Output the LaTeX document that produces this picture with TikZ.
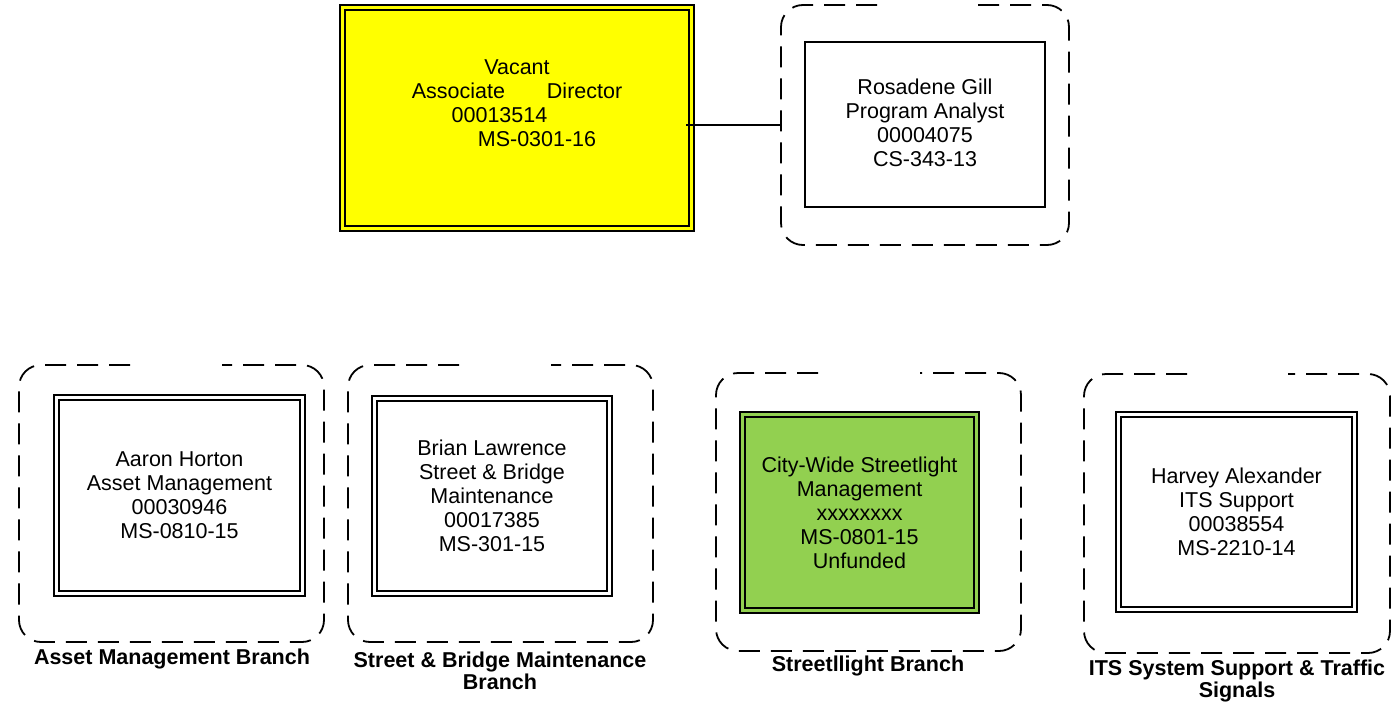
\documentclass[tikz,border=0pt]{standalone}
\usepackage{fontspec}
\setmainfont{Liberation Sans}
\usetikzlibrary{calc}
\definecolor{vacyellow}{HTML}{FFFF00}
\definecolor{unfgreen}{HTML}{92D050}
\tikzset{
  grpnode/.style={draw=none, inner sep=0pt, outer sep=0pt},
  grpline/.style={line width=1.8pt, dash pattern=on 21pt off 11pt, rounded corners=22pt},
  dblbox/.style={draw=black, line width=1.4pt, double=white, double distance=3.6pt, align=center, inner sep=0pt, font=\fontsize{21.5pt}{24pt}\selectfont},
  sglbox/.style={draw=black, line width=1.8pt, align=center, inner sep=0pt, font=\fontsize{21.5pt}{24pt}\selectfont},
  lbl/.style={align=center, font=\bfseries\fontsize{21.5pt}{22pt}\selectfont},
  txt/.style={align=center, font=\fontsize{21.5pt}{24pt}\selectfont},
  conn/.style={line width=1.8pt}
}
\begin{document}
\begin{tikzpicture}[x=1pt,y=-1pt]
\useasboundingbox (0,0) rectangle (1395,704);
% top row
\node[dblbox, double=vacyellow, fill=vacyellow, minimum width=349pt, minimum height=221pt] (vac) at (517,118) {};
\node[txt] (vactext) at (517,103) {Vacant\\Associate\hspace{42pt}Director\\00013514\hspace{35pt}\mbox{}\\\hspace{40pt}MS-0301-16};
\node[grpnode, minimum width=288pt, minimum height=240pt] (gtop) at (925,125) {};
\draw[grpline] ($(gtop.north west)+(96pt,0)$) -- (gtop.north west) -- (gtop.south west) -- (gtop.south east) -- (gtop.north east) -- ($(gtop.north east)+(-96pt,0)$);
\node[sglbox, minimum width=240pt, minimum height=165pt] (gill) at (925,124.5) {};
\node[txt] (gilltext) at (925,122.5) {Rosadene Gill\\Program Analyst\\00004075\\CS-343-13};
\draw[conn] ($(vac.east |- gtop.west)+(-6pt,0)$) -- (gtop.west);
% bottom row: frames
\node[grpnode, minimum width=305pt, minimum height=277pt] (g1) at (171.5,503.5) {};
\draw[grpline] ($(g1.north west)+(111pt,0)$) -- (g1.north west) -- (g1.south west) -- (g1.south east) -- (g1.north east) -- ($(g1.north east)+(-102pt,0)$);
\node[grpnode, minimum width=305pt, minimum height=277pt] (g2) at (500.5,503.5) {};
\draw[grpline] ($(g2.north west)+(111pt,0)$) -- (g2.north west) -- (g2.south west) -- (g2.south east) -- (g2.north east) -- ($(g2.north east)+(-102pt,0)$);
\node[grpnode, minimum width=305pt, minimum height=278pt] (g3) at (868.5,512) {};
\draw[grpline] ($(g3.north west)+(102pt,0)$) -- (g3.north west) -- (g3.south west) -- (g3.south east) -- (g3.north east) -- ($(g3.north east)+(-101pt,0)$);
\node[grpnode, minimum width=306pt, minimum height=279pt] (g4) at (1237,513.5) {};
\draw[grpline] ($(g4.north west)+(103pt,0)$) -- (g4.north west) -- (g4.south west) -- (g4.south east) -- (g4.north east) -- ($(g4.north east)+(-102pt,0)$);
% bottom row: boxes
\node[dblbox, minimum width=246pt, minimum height=196pt] (horton) at (179.5,495.5) {Aaron Horton\\Asset Management\\00030946\\MS-0810-15};
\node[dblbox, minimum width=235pt, minimum height=195pt] (lawrence) at (492,496) {Brian Lawrence\\Street \& Bridge\\Maintenance\\00017385\\MS-301-15};
\node[dblbox, double=unfgreen, fill=unfgreen, minimum width=234pt, minimum height=196pt] (street) at (859.5,512.5) {City-Wide Streetlight\\Management\\xxxxxxxx\\MS-0801-15\\Unfunded};
\node[dblbox, minimum width=236pt, minimum height=195pt] (alexander) at (1236.5,512) {Harvey Alexander\\ITS Support\\00038554\\MS-2210-14};
% labels
\node[lbl] (l1) at (172,659) {Asset Management Branch};
\node[lbl] (l2) at (500,670.5) {Street \& Bridge Maintenance\\Branch};
\node[lbl] (l3) at (868,666) {Streetllight Branch};
\node[lbl] (l4) at (1237,681) {ITS System Support \& Traffic\\Signals};
\end{tikzpicture}
\end{document}
